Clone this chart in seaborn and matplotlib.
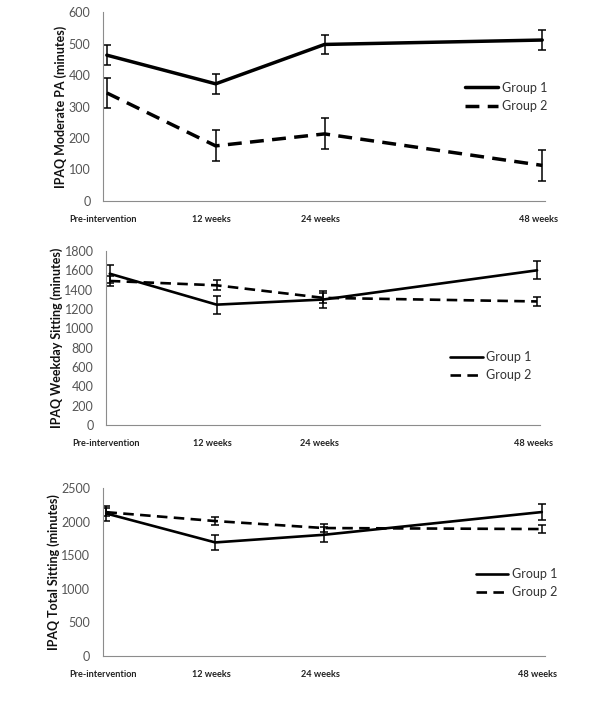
import matplotlib
matplotlib.use("Agg")
import matplotlib.pyplot as plt
from matplotlib.lines import Line2D
import seaborn as sns
import pandas as pd
import numpy as np

sns.set_style("white")
plt.rcParams['font.family'] = ['Lato', 'DejaVu Sans']

weeks = [0, 12, 24, 48]
week_ticks = [0, 12, 24, 36, 48]
week_labels = ["Pre-intervention", "12 weeks", "24 weeks", "", "48 weeks"]
groups = ["Group 1", "Group 2"]

mod_g1 = [463, 372, 497, 511]
mod_g1_err = [32, 32, 30, 31]
mod_g2 = [343, 175, 213, 113]
mod_g2_err = [49, 49, 49, 49]

wd_g1 = [1565, 1245, 1298, 1600]
wd_g1_err = [95, 92, 90, 92]
wd_g2 = [1490, 1445, 1315, 1278]
wd_g2_err = [48, 52, 50, 50]

tot_g1 = [2120, 1690, 1804, 2142]
tot_g1_err = [112, 115, 110, 115]
tot_g2 = [2140, 2008, 1904, 1889]
tot_g2_err = [60, 60, 55, 60]

panels = [
    dict(g1=mod_g1, e1=mod_g1_err, g2=mod_g2, e2=mod_g2_err,
         ylabel="IPAQ Moderate PA (minutes)", ymax=600, ystep=100,
         pos=[0.1717, 0.7153, 0.737, 0.2677], lw=2.5, leg=(0.794, 0.69),
         labx=-0.081),
    dict(g1=wd_g1, e1=wd_g1_err, g2=wd_g2, e2=wd_g2_err,
         ylabel="IPAQ Weekday Sitting (minutes)", ymax=1800, ystep=200,
         pos=[0.1767, 0.398, 0.7233, 0.2465], lw=1.9, leg=(0.767, 0.49),
         labx=-0.099),
    dict(g1=tot_g1, e1=tot_g1_err, g2=tot_g2, e2=tot_g2_err,
         ylabel="IPAQ Total Sitting (minutes)", ymax=2500, ystep=500,
         pos=[0.171, 0.0708, 0.737, 0.238], lw=1.9, leg=(0.818, 0.59),
         labx=-0.096),
]

TICK_SHIFT = 0.42  # tick marks sit slightly left of the plotted points

fig = plt.figure(figsize=(6.0, 7.06), dpi=100)
gray = "#8c8c8c"
for p in panels:
    ax = fig.add_axes(p["pos"])
    df = pd.DataFrame({
        "week": weeks * 2,
        "value": p["g1"] + p["g2"],
        "group": [groups[0]] * 4 + [groups[1]] * 4,
    })
    sns.lineplot(data=df, x="week", y="value", style="group", ax=ax,
                 color="black", linewidth=p["lw"],
                 dashes={groups[0]: "", groups[1]: (4, 2.4)}, legend=False)
    ax.errorbar(weeks, p["g1"], yerr=p["e1"], fmt="none", ecolor="black",
                elinewidth=1.1, capsize=3, capthick=1.1)
    ax.errorbar(weeks, p["g2"], yerr=p["e2"], fmt="none", ecolor="black",
                elinewidth=1.1, capsize=3, capthick=1.1)
    ax.set_xlim(-0.40, 48.33)
    ax.set_ylim(0, p["ymax"])
    ax.set_yticks(np.arange(0, p["ymax"] + 1, p["ystep"]))
    ax.set_xticks([t - TICK_SHIFT for t in week_ticks])
    ax.set_xticklabels(week_labels, fontsize=6.6, fontweight="bold", color="#222222")
    ax.tick_params(axis="x", direction="out", length=3, color=gray, width=0.8, pad=7)
    ax.tick_params(axis="y", direction="out", length=4, color=gray, width=0.8,
                   labelsize=9, labelcolor="#555555", pad=5)
    for s in ["top", "right"]:
        ax.spines[s].set_visible(False)
    for s in ["left", "bottom"]:
        ax.spines[s].set_color(gray)
        ax.spines[s].set_linewidth(0.8)
    ax.set_ylabel(p["ylabel"], fontsize=9, fontweight="bold", color="#111111")
    ax.yaxis.set_label_coords(p["labx"], 0.5)
    ax.set_xlabel("")
    handles = [Line2D([], [], color="black", lw=p["lw"]),
               Line2D([], [], color="black", lw=p["lw"], dashes=(4, 2.4))]
    ax.legend(handles, groups, loc="upper left", bbox_to_anchor=p["leg"],
              frameon=False, fontsize=9, handlelength=2.6, handletextpad=0.3,
              labelspacing=0.5, labelcolor="#333333")

fig.savefig("out.png", dpi=100)
